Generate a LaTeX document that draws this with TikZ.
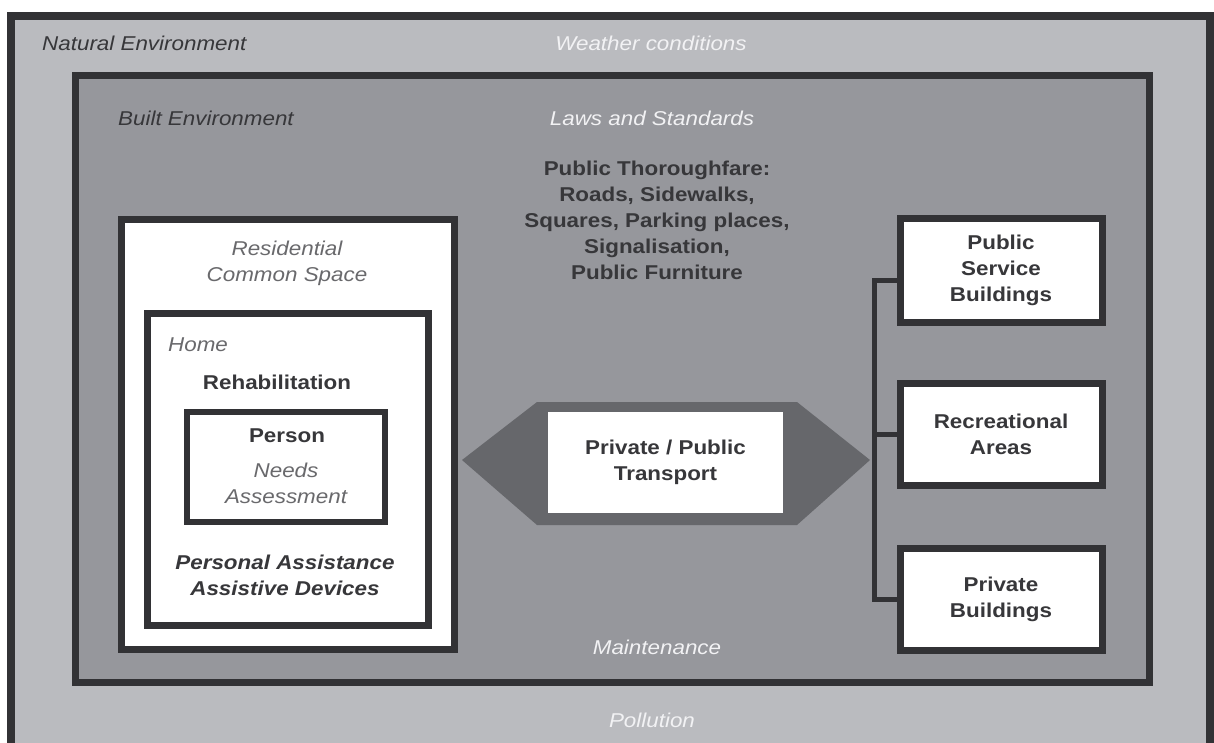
\documentclass[tikz,border=0pt]{standalone}
\usepackage{fontspec}
\setmainfont{Liberation Sans}[FakeStretch=1.12]
\usepackage{tikz}
\usetikzlibrary{positioning}

\definecolor{natgrey}{RGB}{186,187,191}
\definecolor{builtgrey}{RGB}{150,151,156}
\definecolor{hexgrey}{RGB}{102,103,107}
\definecolor{edgegrey}{RGB}{50,50,53}
\definecolor{inkgrey}{RGB}{55,55,58}
\definecolor{softgrey}{RGB}{105,105,108}
\definecolor{paleink}{RGB}{242,242,244}
\newcommand{\txt}{\fontsize{20}{26}\selectfont}

\begin{document}
\begin{tikzpicture}[x=1pt, y=-1pt,
	frame/.style = {draw=edgegrey, line width=7pt, inner sep=0pt},
	whitebox/.style = {frame, fill=white, align=center, font=\txt\bfseries, text=inkgrey},
	darktext/.style = {inner sep=0pt, align=center, font=\txt\itshape, text=inkgrey},
	lighttext/.style = {darktext, text=paleink},
	softtext/.style = {darktext, text=softgrey},
	boldtext/.style = {inner sep=0pt, align=center, font=\txt\bfseries, text=inkgrey},
	link/.style = {draw=edgegrey, line width=5pt}]

	\useasboundingbox (0,0) rectangle (1214,742);
	\clip (0,0) rectangle (1214,742);
	\fill[white] (0,0) rectangle (1214,742);

	% environments
	\node[frame, fill=natgrey, line width=8pt, minimum width=1199pt, minimum height=744pt] (nature) at (610.5,388) {};
	\node[frame, fill=builtgrey, minimum width=1074pt, minimum height=607pt] (built) at (612,378.5) {};

	\node[darktext, anchor=west] (natlbl) at (42,43) {Natural Environment};
	\node[lighttext] (weather) at (651,43) {Weather conditions};
	\node[darktext, anchor=west] (builtlbl) at (118,118) {Built Environment};
	\node[lighttext] (laws) at (652,118) {Laws and Standards};
	\node[boldtext] (street) at (657,220) {Public Thoroughfare:\\Roads, Sidewalks,\\Squares, Parking places,\\Signalisation,\\Public Furniture};
	\node[lighttext] (maint) at (657,647) {Maintenance};
	\node[lighttext] (pollution) at (652,720) {Pollution};

	% residential side
	\node[whitebox, minimum width=333pt, minimum height=430pt] (res) at (287.5,434) {};
	\node[whitebox, minimum width=281pt, minimum height=312pt] (home) at (287.5,469) {};
	\node[whitebox, line width=6pt, minimum width=198pt, minimum height=110pt] (person) at (286,467) {};

	\node[softtext] (reslbl) at (287,263) {Residential\\Common Space};
	\node[softtext, anchor=west] (homelbl) at (168,345) {Home};
	\node[boldtext] (rehab) at (277,382) {Rehabilitation};
	\node[boldtext] (personlbl) at (287,436) {Person};
	\node[softtext] (needs) at (286,483) {Needs\\Assessment};
	\node[boldtext, font=\txt\bfseries\itshape] (assist) at (285,575) {Personal Assistance\\Assistive Devices};

	% transport
	\fill[hexgrey] (462,460) -- (537,402) -- (797,402) -- (870,460) -- (797,525) -- (537,525) -- cycle;
	\node[whitebox, draw=none, minimum width=235pt, minimum height=101pt] (transport) at (665.5,462.5) {Private / Public\\Transport};

	% destinations
	\node[whitebox, minimum width=202pt, minimum height=104pt] (psb) at (1001,270) {Public\\Service\\Buildings};
	\node[whitebox, minimum width=202pt, minimum height=102pt] (rec) at (1001,434) {Recreational\\Areas};
	\node[whitebox, minimum width=202pt, minimum height=102pt] (priv) at (1001,599) {Private\\Buildings};

	\draw[link] ([yshift=-10pt]psb.west) -- ++(-22.5,0) |- (priv.west);
	\draw[link] (rec.west) -- ++(-22.5,0);
\end{tikzpicture}
\end{document}
